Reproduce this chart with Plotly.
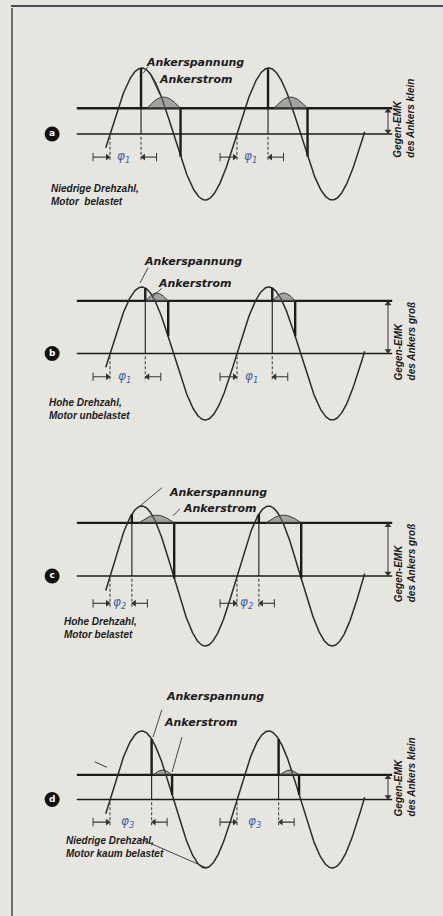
import numpy as np
import plotly.graph_objects as go

# ---------------- data ----------------
PANEL_LETTERS = ["a", "b", "c", "d"]
CAPTIONS = ["Niedrige Drehzahl,<br>Motor  belastet",
            "Hohe Drehzahl,<br>Motor unbelastet",
            "Hohe Drehzahl,<br>Motor belastet",
            "Niedrige Drehzahl,<br>Motor kaum belastet"]
EMK_TEXTS = ["Gegen-EMK<br>des Ankers klein",
             "Gegen-EMK<br>des Ankers groß",
             "Gegen-EMK<br>des Ankers groß",
             "Gegen-EMK<br>des Ankers klein"]
PHI_LABELS = ["φ<sub>1</sub>", "φ<sub>1</sub>", "φ<sub>2</sub>", "φ<sub>3</sub>"]
VOLTAGE_LABEL = "Ankerspannung"
CURRENT_LABEL = "Ankerstrom"

FIRING_DEG = [88, 100, 62, 118]          # firing angle after rising zero crossing
EXTINCTION_DEG = [200, 165, 182, 176]    # angle where armature current stops
EMK_LEVEL = [0.39, 0.79, 0.76, 0.36]     # counter-EMF relative to supply peak
CURRENT_START_DEG = [104, 100, 82, 122]
CURRENT_PEAK = [0.17, 0.12, 0.11, 0.07]  # current lobe height above EMK line
PERIOD_OFFSETS = [0, 360]
CURVE_RANGE_DEG = [-12, 722]
LINE_RANGE_DEG = [-94, 800]

# ---------------- layout helpers (geometry / style only) ----------------
W, H = 443, 916
X_RANGE = [-311.8, 944.0]
CENTER_PX = [134, 353.5, 576, 799.5]
AMP_PX = [66, 66.5, 70, 68.5]
HALF_PX = 105

INK = "#1b1b1b"
BLUE = "#4060a8"
BG = "#e7e5e0"

VLABEL_POS = [(96, 1.09), (92, 1.38), (162, 1.20), (154, 1.50)]
CLABEL_POS = [(133, 0.82), (130, 1.06), (200, 0.97), (147, 1.12)]
VLEADER = [((108, 1.02), (94, 0.92)), ((108, 1.29), (85, 1.06)),
           ((147, 1.26), (85, 1.00)), ((147, 1.31), (122, 0.91))]
CLEADER = [((111, 0.94), (142, 0.59)), ((147, 0.98), (119, 0.85)),
           ((198, 0.96), (179, 0.86)), ((204, 0.91), (176, 0.40))]
CAPTION_POS = [(-172, -0.92), (-178, -0.83), (-135, -0.74), (-130, -0.69)]
PHI_Y = [-0.35, -0.35, -0.39, -0.33]
EMKTEXT_Y = [0.24, 0.19, 0.19, 0.33]
TICK_BOTTOM = [-0.42, -0.42, -0.46, -0.40]
DIM_X = 788

fig = go.Figure()
layout = dict(width=W, height=H, margin=dict(l=0, r=0, t=0, b=0),
              paper_bgcolor=BG, plot_bgcolor=BG, showlegend=False)
annotations = []
shapes = []

for i in range(4):
    n = "" if i == 0 else str(i + 1)
    xa, ya = "x" + n, "y" + n
    k = HALF_PX / AMP_PX[i]
    layout["xaxis" + n] = dict(domain=[0, 1], range=X_RANGE, visible=False,
                               anchor=ya, fixedrange=True)
    layout["yaxis" + n] = dict(domain=[1 - (CENTER_PX[i] + HALF_PX) / H,
                                       1 - (CENTER_PX[i] - HALF_PX) / H],
                               range=[-k, k], visible=False, anchor=xa,
                               fixedrange=True)
    emk = EMK_LEVEL[i]
    f, e = FIRING_DEG[i], EXTINCTION_DEG[i]
    s, h = CURRENT_START_DEG[i], CURRENT_PEAK[i]

    def line(x, y, width=1.3, dash=None, color=INK):
        fig.add_trace(go.Scatter(x=x, y=y, xaxis=xa, yaxis=ya, mode="lines",
                                 line=dict(color=color, width=width, dash=dash),
                                 hoverinfo="skip"))

    def arrow(x, y, symbols, width=1.1):
        fig.add_trace(go.Scatter(x=x, y=y, xaxis=xa, yaxis=ya, mode="lines+markers",
                                 line=dict(color="#333", width=width),
                                 marker=dict(symbol=symbols, size=6, color="#333",
                                             line=dict(width=0)),
                                 hoverinfo="skip", cliponaxis=False))

    line(LINE_RANGE_DEG, [0, 0], 1.3)
    line(LINE_RANGE_DEG, [emk, emk], 2.3)

    th = np.linspace(CURVE_RANGE_DEG[0], CURVE_RANGE_DEG[1], 500)
    line(th, np.sin(np.radians(th)), 1.5, color="#2a2a2a")

    for p in PERIOD_OFFSETS:
        lt = np.linspace(s, e, 60)
        ly = emk + h * np.sin(np.pi * (lt - s) / (e - s))
        fig.add_trace(go.Scatter(x=np.concatenate([lt + p, [e + p, s + p]]),
                                 y=np.concatenate([ly, [emk, emk]]),
                                 xaxis=xa, yaxis=ya, mode="lines", fill="toself",
                                 fillcolor="rgba(110,110,110,0.55)",
                                 line=dict(color="#3a3a3a", width=1),
                                 hoverinfo="skip"))
        sf = float(np.sin(np.radians(f)))
        se = float(np.sin(np.radians(e)))
        if sf > emk:
            line([f + p, f + p], [sf, emk], 2.4)
        line([f + p, f + p], [min(sf, emk), 0], 1.1)
        line([f + p, f + p], [-0.04, TICK_BOTTOM[i]], 1.1, dash="3px,2px", color="#444")
        line([p, p], [-0.04, TICK_BOTTOM[i]], 1.1, dash="3px,2px", color="#444")
        line([e + p, e + p], [emk, se], 2.4)
        arrow([p - 48, p - 7], [PHI_Y[i]] * 2, ["line-ns-open", "triangle-right"])
        arrow([f + p + 44, f + p + 7], [PHI_Y[i]] * 2, ["line-ns-open", "triangle-left"])
        annotations.append(dict(x=p + f * 0.42, y=PHI_Y[i], xref=xa, yref=ya,
                                text=PHI_LABELS[i], showarrow=False,
                                font=dict(family="DejaVu Sans", size=12,
                                          color=BLUE, style="italic")))

    fig.add_trace(go.Scatter(x=[-164], y=[0], xaxis=xa, yaxis=ya,
                             mode="markers+text", text=[PANEL_LETTERS[i]],
                             textposition="middle center",
                             textfont=dict(family="DejaVu Sans", size=9,
                                           color="white", weight="bold"),
                             marker=dict(size=15, color="#111"),
                             hoverinfo="skip", cliponaxis=False))

    lab_font = dict(family="DejaVu Sans", size=11, color=INK,
                    weight="bold", style="italic")
    small_font = dict(family="Liberation Sans", size=10, color=INK,
                      weight="bold", style="italic")
    annotations.append(dict(x=VLABEL_POS[i][0], y=VLABEL_POS[i][1], xref=xa, yref=ya,
                            text=VOLTAGE_LABEL, showarrow=False, xanchor="left",
                            font=lab_font))
    annotations.append(dict(x=CLABEL_POS[i][0], y=CLABEL_POS[i][1], xref=xa, yref=ya,
                            text=CURRENT_LABEL, showarrow=False, xanchor="left",
                            font=lab_font))
    for (t0, t1) in (VLEADER[i], CLEADER[i]):
        line([t0[0], t1[0]], [t0[1], t1[1]], 0.9, color="#333")
    annotations.append(dict(x=CAPTION_POS[i][0], y=CAPTION_POS[i][1], xref=xa, yref=ya,
                            text=CAPTIONS[i], showarrow=False, xanchor="left",
                            align="left", font=small_font))
    arrow([DIM_X, DIM_X], [emk - 0.04, 0.04], ["triangle-up", "triangle-down"], 1.0)
    annotations.append(dict(x=835, y=EMKTEXT_Y[i], xref=xa, yref=ya,
                            text=EMK_TEXTS[i], showarrow=False, textangle=-90,
                            align="left", font=small_font))

    if i == 3:
        line([79, 275], [-0.56, -1.0], 0.9, color="#333")
        line([-43, -9], [0.55, 0.47], 1.0, color="#333")

shapes.append(dict(type="line", xref="paper", yref="paper", x0=11 / W, x1=1,
                   y0=1 - 6 / H, y1=1 - 6 / H, line=dict(color="#4a4a55", width=2)))
shapes.append(dict(type="line", xref="paper", yref="paper", x0=12 / W, x1=12 / W,
                   y0=0, y1=1 - 8 / H, line=dict(color="#444", width=1.5)))

layout["annotations"] = annotations
layout["shapes"] = shapes
fig.update_layout(**layout)
fig.write_html("out.html", config={"displayModeBar": False},
               post_script="document.body.style.margin='0';"
                           "document.body.style.padding='0';"
                           "document.body.style.background='" + BG + "';")
